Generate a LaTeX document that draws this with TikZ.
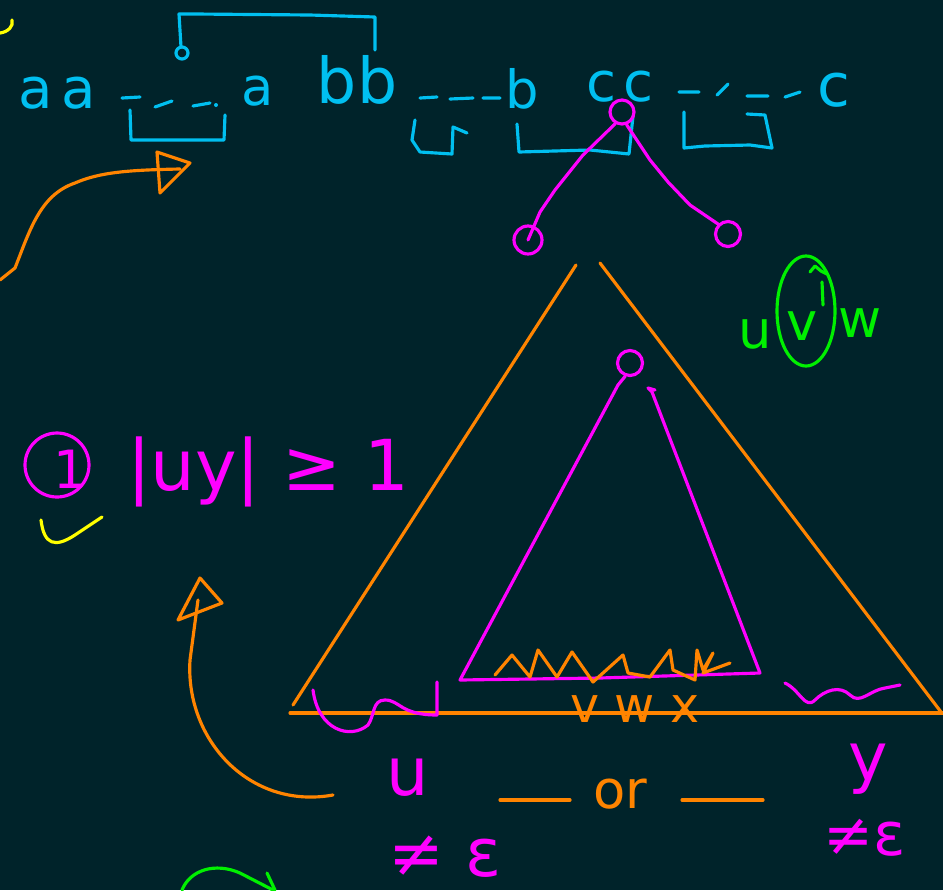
\documentclass[tikz,border=0pt]{standalone}
\usepackage{fontspec}
\setmainfont{DejaVu Sans}
\usetikzlibrary{positioning}
\definecolor{Board}{HTML}{00232A}
\definecolor{Sky}{HTML}{00BFF0}
\definecolor{Pink}{HTML}{FF00FF}
\definecolor{Amber}{HTML}{FF8400}
\definecolor{Lime}{HTML}{00F000}
\definecolor{Lemon}{HTML}{FFFF00}
\tikzset{
  ink/.style={line width=1.8pt,line cap=round,line join=round},
  hand/.style={inner sep=0pt,anchor=base,font=\fontsize{#1}{#1}\selectfont},
  knot/.style={draw,circle,ink,inner sep=0pt,minimum size=#1},
}

\begin{document}
\begin{tikzpicture}[x=0.02cm,y=-0.02cm]
  \fill[Board] (0,0) rectangle (943,890);
  \useasboundingbox (0,0) rectangle (943,890);
  % yellow ticks
  \draw[ink,Lemon] (0,33) .. controls (8,32) and (14,26) .. (12,20);
  \draw[ink,Lemon] (41,520) .. controls (44,545) and (55,548) .. (75,535) -- (102,517);

  % the string aa---a bb---b cc---c
  \node[hand=32,Sky] (aa) at (57,108) {a\hspace{5pt}a};
  \node[hand=30,Sky] (a) at (258,105) {a};
  \node[hand=36,Sky] (bb) at (357,103) {bb};
  \node[hand=30,Sky] (b) at (522,108) {b};
  \node[hand=31,Sky] (cc) at (620,101) {c\hspace{4pt}c};
  \node[hand=34,Sky] (c) at (834,106) {c};
  \draw[ink,Sky] (122,98)--(140,97) (155,107)--(172,101) (193,106)--(210,103);
  \fill[Sky] (216,105) circle (2);
  \draw[ink,Sky] (420,98)--(437,97) (450,99)--(473,98) (483,98)--(500,98);
  \draw[ink,Sky] (679,92)--(699,92) (717,95)--(728,84) (747,96)--(768,96) (785,97)--(800,92);
  \draw[ink,Sky] (181,47) -- (179,14) -- (195,14) -- (310,15) -- (375,17) -- (375,50);
  \draw[ink,Sky] (182,53) circle (6);
  \draw[ink,Sky] (130,110) -- (131,140) -- (224,140) -- (225,115);
  \draw[ink,Sky] (415,120) -- (412,140) -- (420,152) -- (452,154) -- (453,127) -- (467,133);
  \draw[ink,Sky] (517,124) -- (519,152) -- (590,150) -- (629,154) -- (633,116);
  \draw[ink,Sky] (684,112) -- (684,148) -- (705,146) -- (750,145) -- (772,148) -- (765,115) -- (747,114);

  % little tree
  \node[knot=0.48cm,Pink] (root) at (622,112) {};
  \node[knot=0.56cm,Pink] (lleaf) at (528,240) {};
  \node[knot=0.5cm,Pink] (rleaf) at (728,234) {};
  \draw[ink,Pink] (root.240) -- (583,155) -- (555,190) -- (540,212) -- (lleaf.center);
  \draw[ink,Pink] (root.290) -- (650,160) -- (668,182) -- (690,205) -- (rleaf.north west);

  % big triangle
  \draw[ink,Amber] (293,705) -- (576,265);
  \draw[ink,Amber] (600,263) -- (941,712);
  \draw[ink,Amber] (290,713) -- (943,713);

  % inner triangle
  \node[knot=0.5cm,Pink] (top) at (630,363) {};
  \draw[ink,Pink] (top.250) -- (618,385) -- (460,680) -- (600,678) -- (760,673)
    -- (652,392) -- (648,388) -- (655,390);
  \draw[ink,Amber] (495,675) -- (512,655) -- (530,677) -- (538,650) -- (557,677)
    -- (572,652) -- (593,682) -- (623,655) -- (628,673) -- (650,677) -- (670,650)
    -- (673,670) -- (695,680) -- (697,650) -- (703,670) -- (713,653) -- (703,673)
    -- (730,663);
  \node[hand=28,Amber] (vwx) at (635,722) {v w x};

  % u and y pieces
  \draw[ink,Pink] (313,690) .. controls (318,730) and (350,740) .. (368,725)
    .. controls (375,715) and (372,700) .. (385,700)
    .. controls (400,700) and (400,715) .. (437,715) -- (437,682);
  \draw[ink,Pink] (785,683) .. controls (800,690) and (805,710) .. (815,700)
    .. controls (825,690) and (840,685) .. (850,695)
    .. controls (860,705) and (870,690) .. (885,688) -- (900,685);
  \node[hand=38,Pink] (u) at (408,795) {u};
  \node[hand=38,Pink] (y) at (868,780) {y};
  \node[hand=38,Pink] (uneq) at (445,876) {≠ ε};
  \node[hand=34,Pink] (yneq) at (865,855) {≠ε};
  \node[hand=30,Amber] (or) at (620,808) {or};
  \draw[ink,Amber] (500,800) -- (570,800);
  \draw[ink,Amber] (682,800) -- (763,800);

  % arrows
  \draw[ink,Amber] (0,280) -- (15,268) .. controls (30,230) and (40,195) .. (75,183)
    .. controls (100,172) and (130,170) .. (180,169);
  \draw[ink,Amber] (157,152) -- (190,163) -- (160,193) -- cycle;
  \draw[ink,Amber] (333,795) .. controls (250,810) and (185,740) .. (190,660) -- (198,600);
  \draw[ink,Amber] (200,578) -- (222,603) -- (178,620) -- cycle;

  % condition
  \node[knot=1.28cm,Pink] (one) at (57,465) {};
  \node[hand=30,Pink] (onetxt) at (70,488) {1};
  \node[hand=40,Pink] (uy) at (268,490) {|uy| ≥ 1};

  % uvw in green
  \node[hand=30,Lime] (gu) at (755,348) {u};
  \node[hand=30,Lime] (gv) at (802,340) {v};
  \node[hand=30,Lime] (gw) at (860,337) {w};
  \draw[ink,Lime] (806,311) ellipse (29 and 55);
  \draw[ink,Lime] (810,272) -- (815,266) -- (821,271) -- (827,274);
  \draw[ink,Lime] (822,282) -- (823,305);
  \draw[ink,Lime] (182,890) .. controls (190,870) and (215,862) .. (240,873) -- (273,890);
  \draw[ink,Lime] (267,873) -- (275,890);
\end{tikzpicture}
\end{document}
